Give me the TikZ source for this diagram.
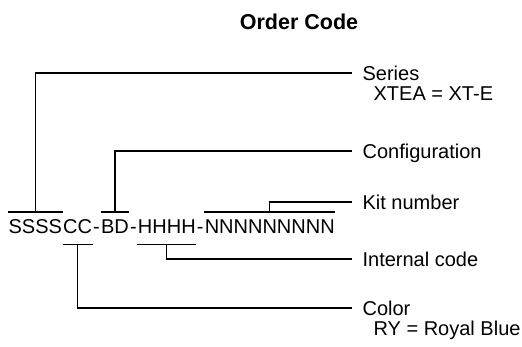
\documentclass[tikz,border=0pt]{standalone}
\usepackage{fontspec}
\setmainfont{Liberation Sans}
\usetikzlibrary{positioning}

\begin{document}
\begin{tikzpicture}[x=1pt, y=-1pt,
  line width=1.2pt,
  code/.style = {inner sep=0pt, font=\fontsize{20}{24}\selectfont, text height=14.3pt, text depth=0pt, anchor=base west},
  lbl/.style = {inner sep=0pt, font=\fontsize{20}{24}\selectfont, text height=14.3pt, text depth=0pt, anchor=west},
  sub/.style = {inner sep=0pt, font=\fontsize{20}{24}\selectfont, anchor=base west}
  ]
	\useasboundingbox (0,0) rectangle (522,347);

	\node[font=\bfseries\fontsize{21.5}{26}\selectfont, anchor=base] (title) at (299,30) {Order Code};

	% the code, piece by piece
	\node[code] (sers) at (8,233.5) {SSSS};
	\node[code] (colr) at (sers.base east) {CC};
	\node[code] (dash1) at (colr.base east) {-};
	\node[code] (conf) at (dash1.base east) {BD};
	\node[code] (dash2) at (conf.base east) {-};
	\node[code] (intc) at (dash2.base east) {HHHH};
	\node[code] (dash3) at (intc.base east) {-};
	\node[code] (kitn) at (dash3.base east) {NNNNNNNNN};

	% labels
	\node[lbl] (lser) at (362,73) {Series};
	\node[sub] (vser) at ([xshift=11pt,yshift=-20pt]lser.base west) {XTEA = XT-E};
	\node[lbl] (lconf) at (362,151) {Configuration};
	\node[lbl] (lkit) at (362,202) {Kit number};
	\node[lbl] (lint) at (362,259) {Internal code};
	\node[lbl] (lcol) at (362,308) {Color};
	\node[sub] (vcol) at ([xshift=11pt,yshift=-20pt]lcol.base west) {RY = Royal Blue};

	% bars over and under the pieces
	\draw ([yshift=6.5pt]sers.north west) -- coordinate (bs) ([yshift=6.5pt]sers.north east);
	\draw ([yshift=6.5pt]conf.north west) -- coordinate (bb) ([yshift=6.5pt]conf.north east);
	\draw ([yshift=6.5pt]kitn.north west) -- coordinate (bn) ([yshift=6.5pt]kitn.north east);
	\draw ([yshift=-10.5pt]colr.south west) -- coordinate (bc) ([yshift=-10.5pt]colr.south east);
	\draw ([yshift=-10.5pt]intc.south west) -- coordinate (bh) ([yshift=-10.5pt]intc.south east);

	% leaders to the labels
	\draw (bs) |- ([xshift=-10pt]lser.west);
	\draw (bb) |- ([xshift=-10pt]lconf.west);
	\draw (bn) |- ([xshift=-10pt]lkit.west);
	\draw (bh) |- ([xshift=-10pt]lint.west);
	\draw (bc) |- ([xshift=-10pt]lcol.west);

\end{tikzpicture}
\end{document}
